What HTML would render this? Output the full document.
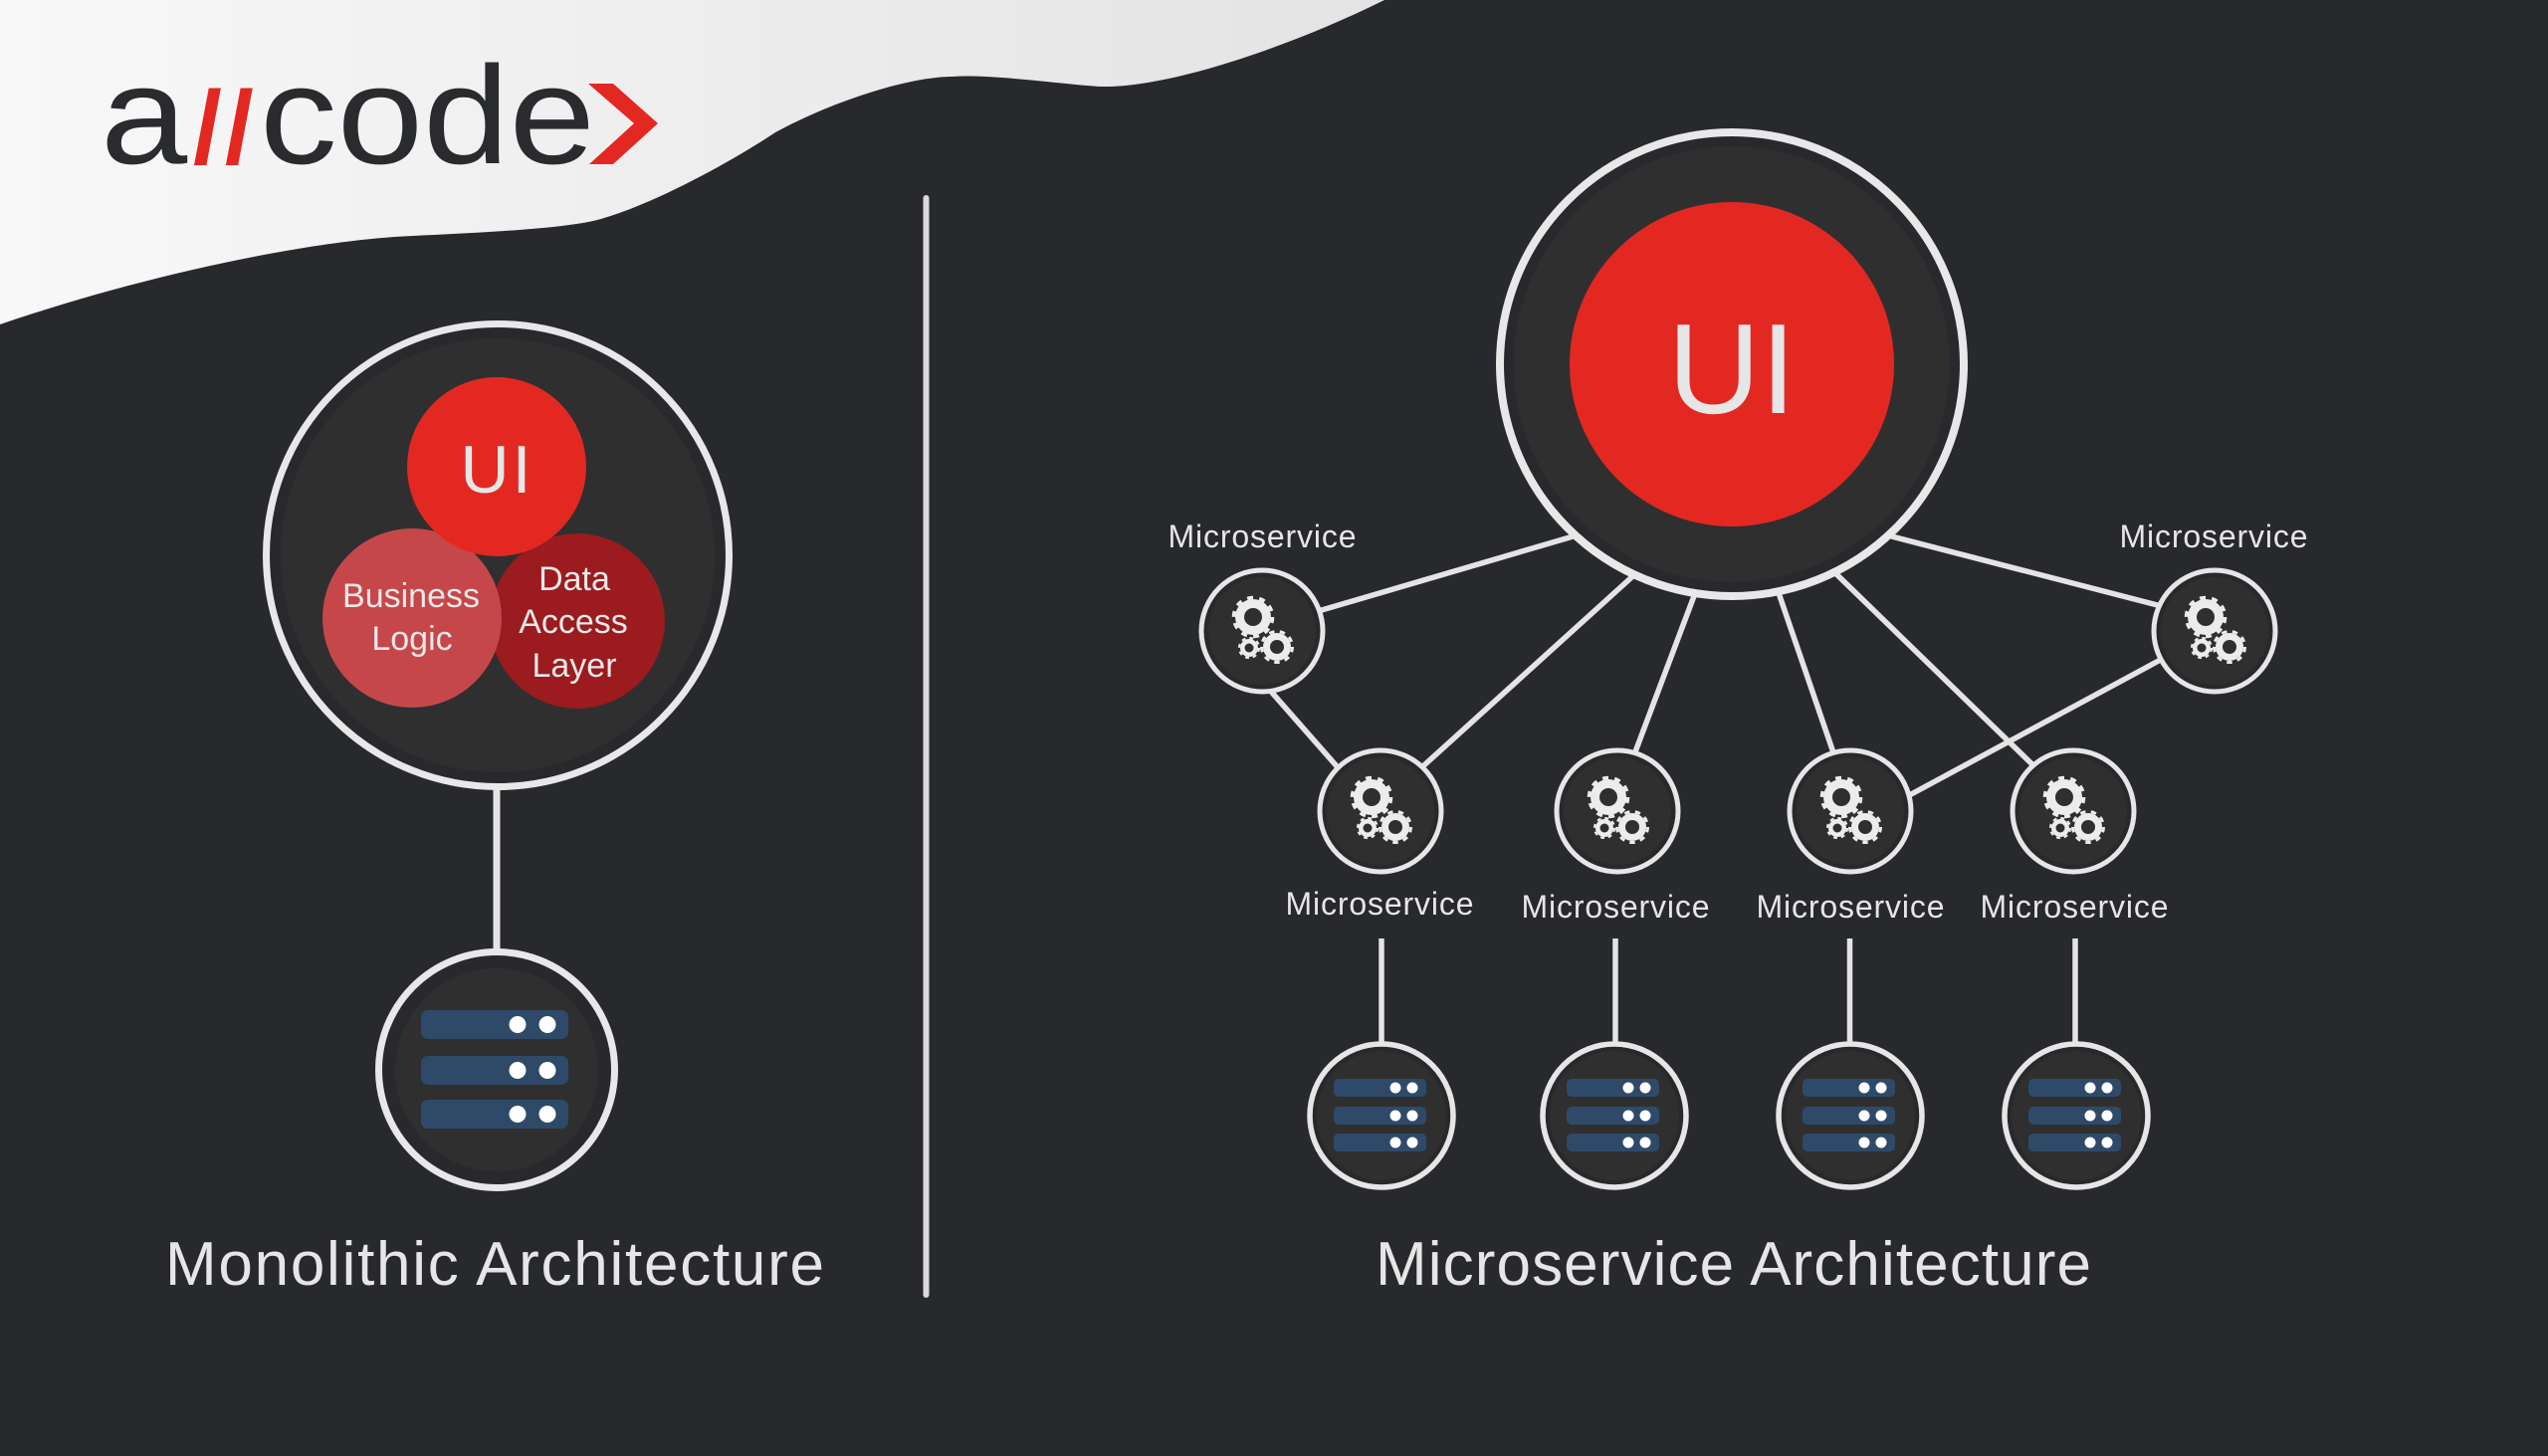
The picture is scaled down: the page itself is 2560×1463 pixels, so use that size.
<!DOCTYPE html>
<html>
<head>
<meta charset="utf-8">
<style>
  html,body{margin:0;padding:0;background:#28292c;}
  body{width:2560px;height:1463px;overflow:hidden;}
  svg{display:block;}
  text{font-family:"Liberation Sans", Arial, sans-serif;}
</style>
</head>
<body>
<svg width="2560" height="1463" viewBox="0 0 2560 1463" xmlns="http://www.w3.org/2000/svg">
  <defs>
    <linearGradient id="wg" gradientUnits="userSpaceOnUse" x1="0" y1="0" x2="1400" y2="0">
      <stop offset="0" stop-color="#f8f8f8"/>
      <stop offset="1" stop-color="#e3e3e3"/>
    </linearGradient>
    <g id="gear" fill="#ececec">
      <circle cx="-9" cy="-14" r="18"/>
      <circle cx="-9" cy="-14" r="19.5" fill="none" stroke="#ececec" stroke-width="3.6" stroke-dasharray="6 6.25"/>
      <circle cx="-9" cy="-14" r="9" fill="#2f2f30"/>
      <circle cx="15" cy="16" r="14"/>
      <circle cx="15" cy="16" r="15.5" fill="none" stroke="#ececec" stroke-width="3" stroke-dasharray="5.4 5.42"/>
      <circle cx="15" cy="16" r="7" fill="#2f2f30"/>
      <circle cx="-13" cy="17" r="9"/>
      <circle cx="-13" cy="17" r="10" fill="none" stroke="#ececec" stroke-width="2.2" stroke-dasharray="3.9 3.95"/>
      <circle cx="-13" cy="17" r="4.5" fill="#2f2f30"/>
    </g>
    <g id="node">
      <circle r="61" fill="#28292c" stroke="#e6e6e6" stroke-width="5"/>
      <circle r="54" fill="#2f2f30"/>
      <use href="#gear"/>
    </g>
    <g id="db">
      <circle r="72" fill="#28292c" stroke="#e6e6e6" stroke-width="5.5"/>
      <circle r="65" fill="#2f2f30"/>
      <rect x="-48" y="-37" width="93" height="18" rx="5" fill="#2e4a68"/>
      <rect x="-48" y="-9" width="93" height="18" rx="5" fill="#2e4a68"/>
      <rect x="-48" y="18" width="93" height="18" rx="5" fill="#2e4a68"/>
      <g fill="#ffffff">
        <circle cx="14" cy="-28" r="5.5"/><circle cx="31" cy="-28" r="5.5"/>
        <circle cx="14" cy="0" r="5.5"/><circle cx="31" cy="0" r="5.5"/>
        <circle cx="14" cy="27" r="5.5"/><circle cx="31" cy="27" r="5.5"/>
      </g>
    </g>
  </defs>

  <!-- background -->
  <rect x="0" y="0" width="2560" height="1463" fill="#28292c"/>

  <!-- white wave header -->
  <path d="M0,0 H1391 C1300,45 1180,87 1110,87 C1085,87 1000,74 957,77 C915,77 840,100 779,133 C745,156 660,205 600,221 C560,231 470,234 396,238 C300,245 150,275 0,326 Z" fill="url(#wg)"/>

  <!-- logo -->
  <text transform="translate(101,164) scale(1.12,1)" font-size="140" fill="#2a2b2e">a</text>
  <text x="194" y="164" font-size="104" font-weight="bold" fill="#e32822" letter-spacing="3">//</text>
  <text transform="translate(261,164) scale(1.11,1)" font-size="140" fill="#2a2b2e">code</text>
  <polygon points="591,84 616,84 661,124 616,165 592,165 637,124" fill="#e32822"/>

  <!-- divider -->
  <line x1="930.5" y1="199" x2="930.5" y2="1301" stroke="#dadada" stroke-width="6" stroke-linecap="round"/>

  <!-- ===== Monolithic ===== -->
  <line x1="499" y1="780" x2="499" y2="965" stroke="#e4e4e4" stroke-width="7"/>
  <circle cx="500" cy="558" r="232.5" fill="#28292c" stroke="#e8e8e8" stroke-width="7"/>
  <circle cx="500" cy="558" r="218" fill="#2f2f30"/>
  <circle cx="580" cy="624" r="88" fill="#9b1b1e"/>
  <circle cx="414" cy="621" r="90" fill="#c6474a"/>
  <circle cx="499" cy="469" r="90" fill="#e32822"/>
  <text x="498" y="495" font-size="68" fill="#e6e6e6" text-anchor="middle" textLength="71" lengthAdjust="spacing">UI</text>
  <g font-size="34" fill="#e8e8e8" text-anchor="middle">
    <text x="413" y="610">Business</text>
    <text x="414" y="653">Logic</text>
    <text x="577" y="593">Data</text>
    <text x="576" y="636">Access</text>
    <text x="577" y="680">Layer</text>
  </g>

  <!-- monolith DB -->
  <g transform="translate(499,1075)">
    <circle r="118.5" fill="#28292c" stroke="#e8e8e8" stroke-width="7"/>
    <circle r="102" fill="#2f2f30"/>
    <rect x="-76" y="-60" width="148" height="29" rx="7" fill="#2e4a68"/>
    <rect x="-76" y="-14" width="148" height="29" rx="7" fill="#2e4a68"/>
    <rect x="-76" y="30" width="148" height="29" rx="7" fill="#2e4a68"/>
    <g fill="#ffffff">
      <circle cx="21" cy="-45.5" r="8.5"/><circle cx="51" cy="-45.5" r="8.5"/>
      <circle cx="21" cy="0.5" r="8.5"/><circle cx="51" cy="0.5" r="8.5"/>
      <circle cx="21" cy="44.5" r="8.5"/><circle cx="51" cy="44.5" r="8.5"/>
    </g>
  </g>

  <text x="166" y="1291" font-size="62" fill="#e6e6e6" textLength="662" lengthAdjust="spacing">Monolithic Architecture</text>

  <!-- ===== Microservice ===== -->
  <g stroke="#e4e4e4" stroke-width="5.5" stroke-linecap="butt">
    <line x1="1316" y1="616.5" x2="1589" y2="536.5"/>
    <line x1="1271" y1="688" x2="1351" y2="779"/>
    <line x1="1423" y1="776" x2="1646" y2="574"/>
    <line x1="1639" y1="766" x2="1705" y2="591"/>
    <line x1="1845" y1="765" x2="1784" y2="587"/>
    <line x1="2050" y1="776" x2="1840" y2="572"/>
    <line x1="1893" y1="537" x2="2179" y2="611"/>
    <line x1="2178" y1="659" x2="1911" y2="803"/>
    <line x1="1388" y1="943" x2="1388" y2="1060"/>
    <line x1="1623" y1="943" x2="1623" y2="1060"/>
    <line x1="1858.5" y1="943" x2="1858.5" y2="1060"/>
    <line x1="2085" y1="943" x2="2085" y2="1060"/>
  </g>

  <!-- big UI circle -->
  <circle cx="1740" cy="366" r="233" fill="#28292c" stroke="#e8e8e8" stroke-width="8"/>
  <circle cx="1740" cy="366" r="219" fill="#2f2f30"/>
  <circle cx="1740" cy="366" r="163" fill="#e32822"/>
  <text x="1740" y="415" font-size="129" fill="#e6e6e6" text-anchor="middle">UI</text>

  <!-- microservice nodes -->
  <use href="#node" x="1268" y="634"/>
  <use href="#node" x="2225" y="634"/>
  <use href="#node" x="1387" y="815"/>
  <use href="#node" x="1625" y="815"/>
  <use href="#node" x="1859" y="815"/>
  <use href="#node" x="2083" y="815"/>

  <!-- DBs -->
  <use href="#db" x="1388" y="1121"/>
  <use href="#db" x="1622" y="1121"/>
  <use href="#db" x="1859" y="1121"/>
  <use href="#db" x="2086" y="1121"/>

  <!-- labels -->
  <g font-size="32" fill="#e6e6e6" text-anchor="middle">
    <text x="1268" y="550" textLength="189" lengthAdjust="spacing">Microservice</text>
    <text x="2224" y="550" textLength="189" lengthAdjust="spacing">Microservice</text>
    <text x="1386" y="919" textLength="189" lengthAdjust="spacing">Microservice</text>
    <text x="1623" y="922" textLength="189" lengthAdjust="spacing">Microservice</text>
    <text x="1859" y="922" textLength="189" lengthAdjust="spacing">Microservice</text>
    <text x="2084" y="922" textLength="189" lengthAdjust="spacing">Microservice</text>
  </g>

  <text x="1382" y="1291" font-size="62" fill="#e6e6e6" textLength="719" lengthAdjust="spacing">Microservice Architecture</text>
</svg>
</body>
</html>
